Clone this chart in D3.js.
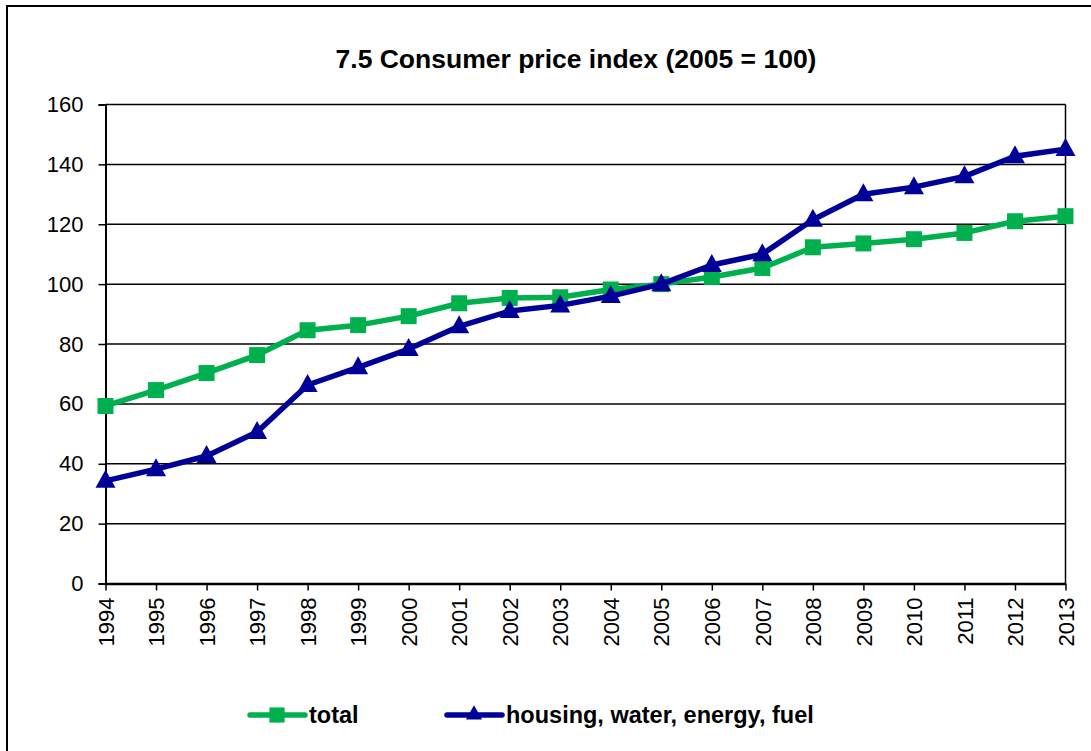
<!DOCTYPE html>
<html>
<head>
<meta charset="utf-8">
<script src="https://cdn.jsdelivr.net/npm/d3@7"></script>
<style>
  body { margin: 0; background: #fff; }
  svg { font-family: Arial, "Liberation Sans", sans-serif; }
</style>
</head>
<body>
<svg id="chart" width="1091" height="751"></svg>
<script>
const years = [1994,1995,1996,1997,1998,1999,2000,2001,2002,2003,2004,2005,2006,2007,2008,2009,2010,2011,2012,2013];
const total = [59.3,64.6,70.3,76.3,84.6,86.3,89.3,93.6,95.4,95.6,98.2,100,102.4,105.4,112.3,113.6,115.0,117.1,121.0,122.7];
const housing = [34.3,38.2,42.6,50.6,66.3,72.2,78.3,85.9,91.0,92.9,96.0,100,106.4,110.0,121.5,130.0,132.4,136.0,142.7,145.1];
const yTicks = [0,20,40,60,80,100,120,140,160];

const green = "#00b04f", blue = "#000099";
const font = "Arial, 'Liberation Sans', sans-serif";

const svg = d3.select("#chart");
const margin = {left: 105.5, top: 104.5, right: 1065.5, bottom: 583.5};

// outer frame
svg.append("rect")
  .attr("x", 7).attr("y", 6).attr("width", 1200).attr("height", 900)
  .attr("fill", "none").attr("stroke", "#000").attr("stroke-width", 2);

const x = d3.scalePoint().domain(years).range([margin.left, margin.right]);
const y = d3.scaleLinear().domain([0,160]).range([margin.bottom, margin.top]);

// gridlines
svg.append("g").selectAll("line").data(yTicks.filter(d => d > 0)).join("line")
  .attr("x1", margin.left).attr("x2", margin.right)
  .attr("y1", d => y(d)).attr("y2", d => y(d))
  .attr("stroke", "#000").attr("stroke-width", 1.5);

// right border of plot
svg.append("line")
  .attr("x1", margin.right).attr("x2", margin.right)
  .attr("y1", margin.top).attr("y2", margin.bottom)
  .attr("stroke", "#000").attr("stroke-width", 1.5);

// y axis
const yAxis = svg.append("g")
  .attr("transform", `translate(${margin.left},0)`)
  .call(d3.axisLeft(y).tickValues(yTicks).tickSize(7).tickPadding(15));
yAxis.select(".domain").attr("stroke-width", 2);
yAxis.selectAll(".tick line").attr("stroke-width", 1.5);
yAxis.selectAll("text").attr("font-size", 22).attr("fill", "#000")
  .attr("font-family", font);

// x axis
const xAxis = svg.append("g")
  .attr("transform", `translate(0,${margin.bottom})`)
  .call(d3.axisBottom(x).tickSize(7).tickSizeOuter(0));
xAxis.select(".domain").attr("stroke-width", 2.5);
xAxis.selectAll(".tick line").attr("stroke-width", 1.5);
xAxis.selectAll("text")
  .attr("font-size", 22).attr("fill", "#000")
  .attr("font-family", font)
  .attr("transform", "rotate(-90)")
  .attr("text-anchor", "end")
  .attr("dy", "0.35em")
  .attr("x", -14).attr("y", 0);

// title
svg.append("text")
  .attr("x", 576).attr("y", 68)
  .attr("text-anchor", "middle")
  .attr("font-size", 26.5).attr("font-weight", "bold")
  .text("7.5 Consumer price index (2005 = 100)");

const line = d3.line().x((d, i) => x(years[i])).y(d => y(d));

function drawSeries(values, color, shape) {
  svg.append("path").datum(values)
    .attr("d", line)
    .attr("fill", "none").attr("stroke", color)
    .attr("stroke-width", 5.5).attr("stroke-linejoin", "round");
  svg.append("g").selectAll("path").data(values).join("path")
    .attr("transform", (d, i) => `translate(${x(years[i])},${y(d)})`)
    .attr("d", shape)
    .attr("fill", color);
}

const square = d3.symbol().type(d3.symbolSquare).size(256)();
const triangle = "M0,-11L10,7L-10,7Z";

drawSeries(total, green, square);
drawSeries(housing, blue, triangle);

// legend
const legend = [
  {name: "total", color: green, shape: square, x: 250},
  {name: "housing, water, energy, fuel", color: blue, shape: triangle, x: 447}
];
const lg = svg.append("g").selectAll("g").data(legend).join("g")
  .attr("transform", d => `translate(${d.x},715)`);
lg.append("line")
  .attr("x1", 0).attr("x2", 55)
  .attr("stroke", d => d.color).attr("stroke-width", 5.5).attr("stroke-linecap", "round");
lg.append("path")
  .attr("transform", (d, i) => i === 0 ? "translate(27,0) scale(0.95)" : "translate(27,-1) scale(0.8)")
  .attr("d", d => d.shape).attr("fill", d => d.color);
lg.append("text")
  .attr("x", 59).attr("y", 7.5)
  .attr("font-size", 23.5).attr("font-weight", "bold")
  .text(d => d.name);
</script>
</body>
</html>
